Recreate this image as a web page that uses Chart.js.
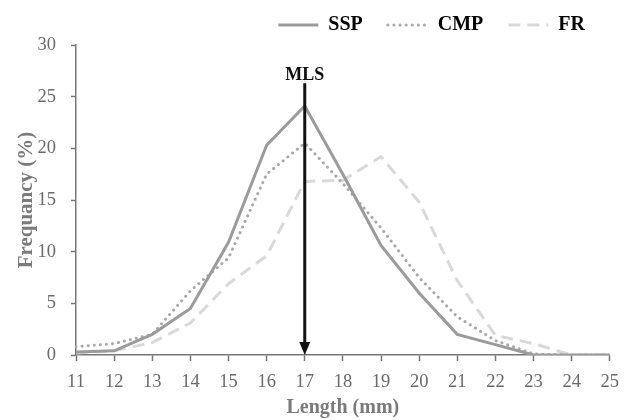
<!DOCTYPE html>
<html lang="en">
<head>
  <meta charset="UTF-8" />
  <title>Length frequency</title>
  <script src="https://cdn.jsdelivr.net/npm/chart.js"></script>
  <style>
    body { margin: 0; background: #fff; }
    .wrap { width: 629px; height: 420px; }
  </style>
</head>
<body>
  <div class="wrap"><canvas id="lenChart" width="629" height="420"></canvas></div>
  <script>
    // length classes (mm)
    const lengths = ['11', '12', '13', '14', '15', '16', '17', '18', '19', '20', '21', '22', '23', '24', '25'];
    const ssp = [0.3, 0.4, 2.0, 4.5, 10.9, 20.3, 24.1, 17.5, 10.6, 6.0, 2.0, 1.0, 0, 0, 0];
    const cmp = [0.8, 1.1, 2.0, 6.2, 9.4, 17.5, 20.5, 16.6, 12.3, 7.5, 3.7, 1.4, 0.1, 0, 0];
    const fr  = [0.2, 0.4, 1.2, 3.1, 6.9, 9.6, 16.8, 16.9, 19.2, 14.8, 7.2, 1.9, 1.1, 0, 0];
    const yTicks = [0, 5, 10, 15, 20, 25, 30];
    const mlsAt = '17';
    const mlsTop = 26.3;

    const serif = "'Liberation Serif', 'DejaVu Serif', serif";

    // MLS arrow drawn at the 17 mm position
    const mlsArrow = {
      id: 'mlsArrow',
      afterDatasetsDraw(chart) {
        const { ctx, scales: { x, y } } = chart;
        const px = x.getPixelForValue(lengths.indexOf(mlsAt));
        const top = y.getPixelForValue(mlsTop);
        const bottom = y.getPixelForValue(0);
        ctx.save();
        ctx.strokeStyle = '#111';
        ctx.fillStyle = '#111';
        ctx.lineWidth = 3;
        ctx.beginPath();
        ctx.moveTo(px, top);
        ctx.lineTo(px, bottom - 10);
        ctx.stroke();
        ctx.beginPath();
        ctx.moveTo(px - 5.5, bottom - 13);
        ctx.lineTo(px + 5.5, bottom - 13);
        ctx.lineTo(px, bottom);
        ctx.closePath();
        ctx.fill();
        ctx.font = 'bold 18px ' + serif;
        ctx.textAlign = 'center';
        ctx.textBaseline = 'alphabetic';
        ctx.fillText('MLS', px, top - 3);
        ctx.restore();
      }
    };

    new Chart(document.getElementById('lenChart'), {
      type: 'line',
      data: {
        labels: lengths,
        datasets: [
          { label: 'SSP', data: ssp, borderColor: '#9b9b9b', borderWidth: 3, pointRadius: 0, tension: 0 },
          { label: 'CMP', data: cmp, borderColor: '#a9a9a9', borderWidth: 3, borderDash: [0.1, 6], borderCapStyle: 'round', pointRadius: 0, tension: 0 },
          { label: 'FR', data: fr, borderColor: '#d9d9d9', borderWidth: 3, borderDash: [12, 7], pointRadius: 0, tension: 0 }
        ]
      },
      options: {
        responsive: false,
        animation: false,
        layout: { padding: { left: 0, right: 19, top: -10, bottom: 0 } },
        plugins: {
          tooltip: { enabled: false },
          legend: {
            position: 'top',
            align: 'end',
            maxHeight: 57,
            labels: {
              usePointStyle: true,
              pointStyle: 'line',
              pointStyleWidth: 40,
              boxWidth: 40,
              padding: 25,
              color: '#7c7c7c',
              font: { family: serif, size: 20, weight: 'bold' },
              generateLabels(chart) {
                return chart.data.datasets.map((ds, i) => ({
                  text: ds.label,
                  fillStyle: ds.borderColor,
                  strokeStyle: ds.borderColor,
                  lineWidth: ds.borderWidth,
                  lineDash: ds.borderDash || [],
                  lineCap: ds.borderCapStyle || 'butt',
                  pointStyle: 'line',
                  hidden: false,
                  datasetIndex: i
                }));
              }
            }
          }
        },
        scales: {
          x: {
            afterFit(scale) { scale.height = 65; },
            grid: { drawOnChartArea: false, tickLength: 6, tickColor: '#777', tickWidth: 1.5 },
            border: { color: '#777', width: 1.5 },
            ticks: { color: '#6a6a6a', padding: 10, maxRotation: 0, font: { family: serif, size: 18.5 } },
            title: { display: true, text: 'Length (mm)', color: '#7a7a7a', padding: { top: 0, bottom: 0 }, font: { family: serif, size: 20, weight: 'bold' } }
          },
          y: {
            min: 0,
            max: 30,
            afterFit(scale) { scale.width = 76; },
            afterBuildTicks(scale) { scale.ticks = yTicks.map(v => ({ value: v })); },
            grid: { drawOnChartArea: false, tickLength: 5, tickColor: '#777', tickWidth: 1.5 },
            border: { color: '#777', width: 1.5 },
            ticks: { color: '#6a6a6a', padding: 15, font: { family: serif, size: 18.5 } },
            title: { display: true, text: 'Frequancy (%)', color: '#7a7a7a', padding: { top: 14, bottom: 0 }, font: { family: serif, size: 21, weight: 'bold' } }
          }
        }
      },
      plugins: [mlsArrow]
    });
  </script>
</body>
</html>
